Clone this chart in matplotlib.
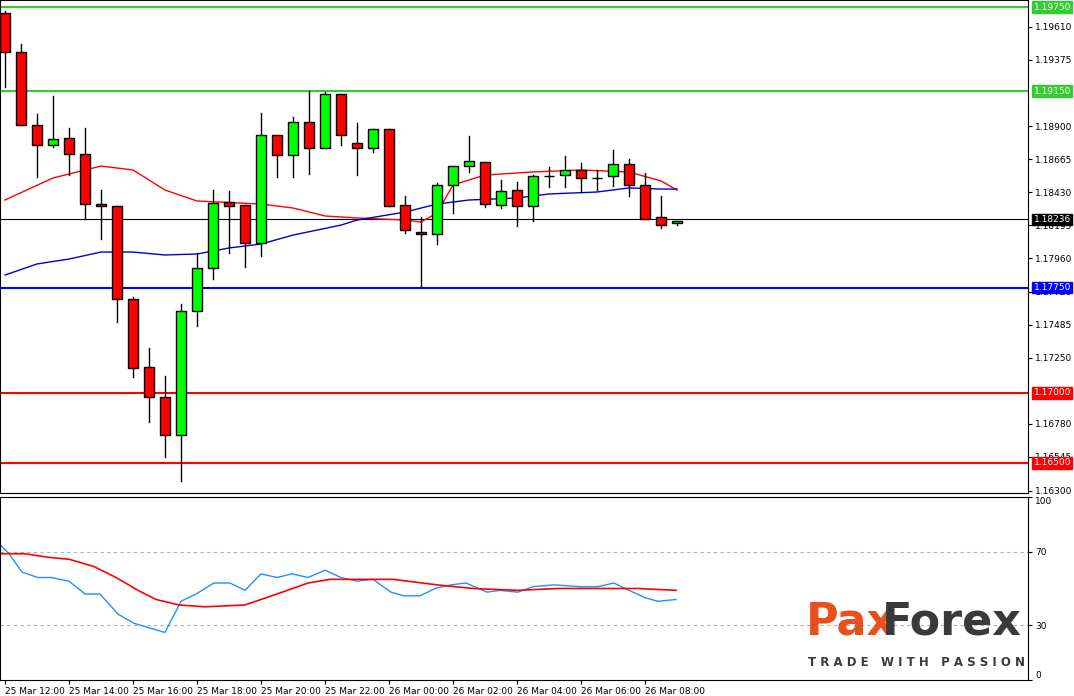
import numpy as np
import matplotlib
matplotlib.use("Agg")
import matplotlib.pyplot as plt
from matplotlib.patches import Rectangle

# 30 min candles from 25 Mar 12:00
opens = [1.19707, 1.19429, 1.18909, 1.18766, 1.18816, 1.18702, 1.18345, 1.18331, 1.17668, 1.17183,
         1.16969, 1.16698, 1.17582, 1.17889, 1.18360, 1.18338, 1.18067, 1.18837, 1.18695, 1.18930,
         1.18745, 1.19130, 1.18780, 1.18745, 1.18880, 1.18338, 1.18146, 1.18131, 1.18481, 1.18616,
         1.18645, 1.18338, 1.18445, 1.18331, 1.18545, 1.18552, 1.18588, 1.18531, 1.18545, 1.18631,
         1.18481, 1.18253, 1.18210]
highs = [1.19721, 1.19486, 1.18987, 1.19115, 1.18887, 1.18887, 1.18445, 1.18331, 1.17682, 1.17319,
         1.17119, 1.17632, 1.17996, 1.18445, 1.18438, 1.18338, 1.18994, 1.18837, 1.18966, 1.19151,
         1.19144, 1.19130, 1.18923, 1.18880, 1.18880, 1.18402, 1.18253, 1.18495, 1.18616, 1.18830,
         1.18645, 1.18517, 1.18502, 1.18552, 1.18609, 1.18688, 1.18638, 1.18588, 1.18730, 1.18666,
         1.18566, 1.18402, 1.18224]
lows = [1.19180, 1.18909, 1.18538, 1.18752, 1.18552, 1.18238, 1.18096, 1.17504, 1.17112, 1.16791,
        1.16542, 1.16370, 1.17475, 1.17811, 1.17996, 1.17896, 1.17975, 1.18538, 1.18538, 1.18559,
        1.18745, 1.18766, 1.18552, 1.18716, 1.18331, 1.18139, 1.17754, 1.18060, 1.18281, 1.18574,
        1.18324, 1.18317, 1.18188, 1.18224, 1.18467, 1.18467, 1.18431, 1.18445, 1.18474, 1.18402,
        1.18238, 1.18174, 1.18195]
closes = [1.19429, 1.18909, 1.18766, 1.18809, 1.18702, 1.18345, 1.18331, 1.17668, 1.17176, 1.16969,
          1.16698, 1.17582, 1.17889, 1.18352, 1.18331, 1.18067, 1.18837, 1.18695, 1.18930, 1.18745,
          1.19130, 1.18837, 1.18745, 1.18880, 1.18331, 1.18160, 1.18131, 1.18481, 1.18616, 1.18652,
          1.18345, 1.18438, 1.18331, 1.18545, 1.18545, 1.18588, 1.18531, 1.18531, 1.18631, 1.18481,
          1.18238, 1.18195, 1.18224]

# moving averages (sampled at candle index)
ma_fast_idx = [0, 3, 6, 8, 10, 12, 16, 18, 20, 22, 25, 26, 27, 28, 30, 33, 36, 39, 41, 42]
ma_fast = [1.18374, 1.18531, 1.18616, 1.18588, 1.18445, 1.18367, 1.18345, 1.18317, 1.18260, 1.18246,
           1.18231, 1.18217, 1.18281, 1.18481, 1.18552, 1.18574, 1.18588, 1.18574, 1.18510, 1.18445]
ma_slow_idx = [0, 2, 4, 6, 8, 10, 12, 14, 16, 18, 21, 22, 25, 27, 29, 32, 34, 37, 39, 41, 42]
ma_slow = [1.17839, 1.17918, 1.17953, 1.18003, 1.18003, 1.17982, 1.17989, 1.18032, 1.18060, 1.18124,
           1.18195, 1.18231, 1.18288, 1.18345, 1.18374, 1.18388, 1.18417, 1.18431, 1.18460, 1.18452, 1.18452]

# oscillator
osc_x = [-0.31, 0.25, 1.06, 2.06, 2.88, 4.0, 5.0, 5.94, 7.06, 8.06, 10.0, 11.0, 11.94, 13.06, 14.06,
         15.0, 16.0, 17.0, 17.94, 18.94, 20.0, 21.0, 22.0, 23.0, 24.13, 24.94, 25.94, 26.88, 27.88,
         28.81, 30.13, 30.94, 32.06, 33.0, 34.31, 35.94, 37.06, 38.06, 39.0, 40.0, 40.81, 41.94]
osc_main = [74, 69, 59, 56, 56, 54, 47, 47, 36, 31, 26, 43, 47, 53, 53, 49, 58, 56, 58, 56, 60, 56,
            54, 55, 48, 46, 46, 50, 52, 53, 48, 49, 48, 51, 52, 51, 51, 53, 49, 45, 43, 44]
sig_x = [-0.31, 1.25, 2.75, 4.0, 5.56, 6.94, 8.31, 9.44, 10.88, 12.5, 15.0, 17.0, 18.94, 20.31, 21.44,
         24.25, 27.0, 29.25, 32.06, 34.56, 39.56, 41.94]
sig_vals = [69, 69, 67, 66, 62, 56, 49, 44, 41, 40, 41, 47, 53, 55, 55, 55, 52, 50, 49, 50, 50, 49]

tick_prices = [1.19610, 1.19375, 1.18900, 1.18665, 1.18430, 1.18195, 1.17960, 1.17720, 1.17485,
               1.17250, 1.16780, 1.16545, 1.16300]
level_prices = [1.19750, 1.19150, 1.18236, 1.17750, 1.17000, 1.16500]
level_colors = ['#33cc33', '#33cc33', 'black', '#0000ff', '#ff0000', '#ff0000']
time_labels = ['25 Mar 12:00', '25 Mar 14:00', '25 Mar 16:00', '25 Mar 18:00', '25 Mar 20:00',
               '25 Mar 22:00', '26 Mar 00:00', '26 Mar 02:00', '26 Mar 04:00', '26 Mar 06:00',
               '26 Mar 08:00']

W, H = 1074, 696
fig = plt.figure(figsize=(W / 100, H / 100), dpi=100)
ax = fig.add_axes([0, 1 - 493 / H, 1028 / W, 493 / H])
ax2 = fig.add_axes([0, 1 - 680 / H, 1028 / W, 183 / H])
xlim = (-0.3125, 63.94)

# levels
for p, c in zip(level_prices, level_colors):
    ax.axhline(p, color=c, lw=0.8 if c == 'black' else 1.5, zorder=1)

ax.plot(ma_fast_idx, ma_fast, color='red', lw=1, zorder=2)
ax.plot(ma_slow_idx, ma_slow, color='#0000cc', lw=1, zorder=2)

for i in range(len(opens)):
    o, h, l, c = opens[i], highs[i], lows[i], closes[i]
    ax.plot([i, i], [l, h], color='black', lw=1, zorder=3)
    col = '#00ff00' if c >= o else '#ff0000'
    bot = min(o, c)
    hgt = max(abs(c - o), 0.00002)
    ax.add_patch(Rectangle((i - 0.3, bot), 0.6, hgt, facecolor=col, edgecolor='black', lw=1, zorder=4))

ax.set_xlim(*xlim)
ax.set_ylim(1.16285, 1.19800)
ax.yaxis.tick_right()
ax.set_yticks(tick_prices)
ax.set_yticklabels(['%.5f' % p for p in tick_prices], fontsize=6.5)
ax.tick_params(axis='y', length=3, pad=2)
ax.set_xticks([])
for s in ax.spines.values():
    s.set_linewidth(0.8)

for p, c in zip(level_prices, level_colors):
    ax.annotate('%.5f' % p, xy=(1.0, p), xycoords=('axes fraction', 'data'), xytext=(4, 0),
                textcoords='offset points', va='center', ha='left', fontsize=6.5, color='white',
                bbox=dict(boxstyle='square,pad=0.15', fc=c, ec=c), annotation_clip=False)

# oscillator
ax2.axhline(70, color='#b0b0b0', lw=0.8, ls=(0, (3, 3)))
ax2.axhline(30, color='#b0b0b0', lw=0.8, ls=(0, (3, 3)))
ax2.plot(osc_x, osc_main, color='#1e90ff', lw=1)
ax2.plot(sig_x, sig_vals, color='#ff0000', lw=1.2)
ax2.set_xlim(*xlim)
ax2.set_ylim(0, 100)
ax2.yaxis.tick_right()
ax2.set_yticks([0, 30, 70, 100])
ax2.set_yticklabels(['0', '30', '70', '100'], fontsize=6.5)
ylabs = ax2.get_yticklabels()
ylabs[0].set_va('bottom')
ylabs[-1].set_va('top')
ax2.tick_params(axis='y', length=3, pad=2)
ax2.set_xticks(list(range(0, 44, 4)))
ax2.set_xticklabels(time_labels, fontsize=6.5, ha='left')
ax2.tick_params(axis='x', length=3, pad=2)
for s in ax2.spines.values():
    s.set_linewidth(0.8)

# logo
fig.text(806 / W, 1 - 622 / H, 'Pax', fontsize=32, fontweight='bold', color='#e8501e',
         va='center', ha='left')
fig.text(1022 / W, 1 - 622 / H, 'Forex', fontsize=32, fontweight='bold', color='#3a3a3a',
         va='center', ha='right')
fig.text(917 / W, 1 - 662 / H, 'T R A D E   W I T H   P A S S I O N', fontsize=8.5,
         fontweight='bold', color='#3a3a3a', va='center', ha='center')

fig.savefig('out.png', dpi=100)
